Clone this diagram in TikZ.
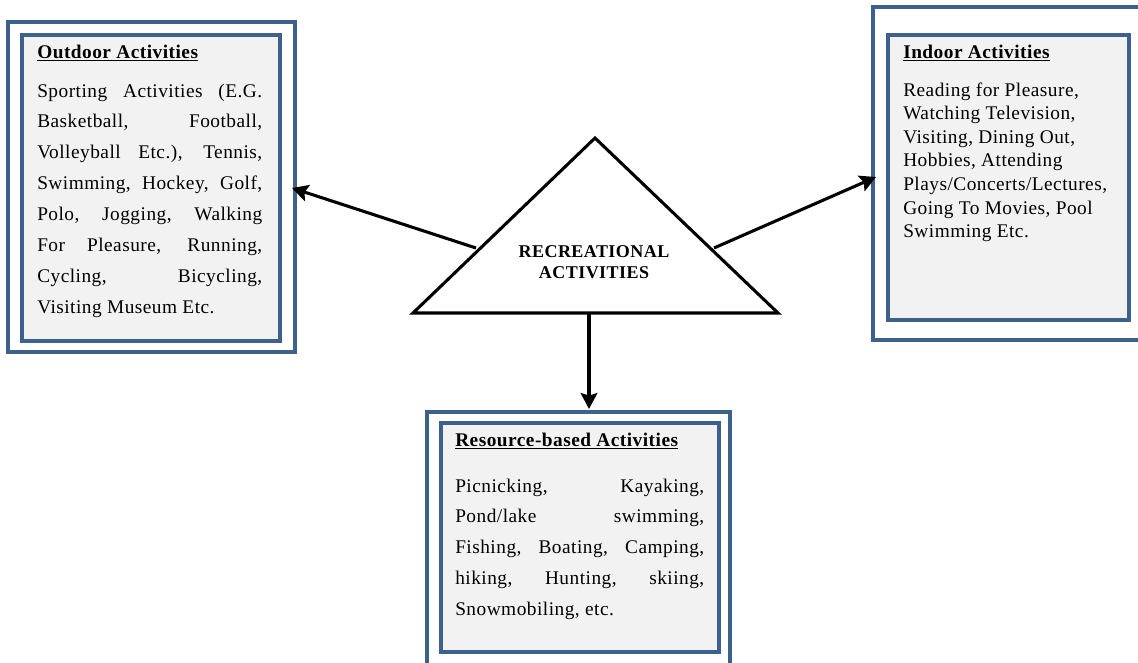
\documentclass[tikz,border=0pt]{standalone}
\usepackage{fontspec}
\setmainfont{Liberation Serif}[LetterSpace=2.5]
\usetikzlibrary{arrows.meta,fit}
\definecolor{boxblue}{RGB}{62,96,140}
\definecolor{boxfill}{RGB}{242,242,242}
\newcommand{\jline}[1]{\makebox[\linewidth][s]{#1}\\}
\begin{document}
\begin{tikzpicture}[x=0.75pt,y=-0.75pt,
  outerbox/.style={draw=boxblue, line width=2.4pt, rectangle, inner sep=0pt},
  innerbox/.style={draw=boxblue, line width=3.2pt, fill=boxfill, rectangle, inner sep=0pt},
  arr/.style={line width=2.3pt, -{Stealth[length=12pt,width=12.5pt,inset=2pt]}},
  tri/.style={line width=2.3pt, line join=miter},
  title/.style={anchor=base west, inner sep=0pt, font=\bfseries\fontsize{14.5}{17}\selectfont},
  body/.style={anchor=base west, inner sep=0pt},
  centre/.style={inner sep=0pt, align=center, font=\bfseries\fontsize{13.5}{16}\selectfont}
]
\useasboundingbox (0,0) rectangle (1138,662);

% boxes
\node[outerbox, fit={(8,22) (295,352)}] (outO) {};
\node[innerbox, fit={(22,35) (280,341)}] (inO) {};
\node[outerbox, fit={(873,7) (1150,340)}] (outI) {};
\node[innerbox, fit={(888,35) (1129,320)}] (inI) {};
\node[outerbox, fit={(427,412) (730,680)}] (outR) {};
\node[innerbox, fit={(441,423) (719,652)}] (inR) {};

% triangle
\coordinate (tA) at (595,138);
\coordinate (tB) at (778,313);
\coordinate (tC) at (413,313);
\draw[tri] (tA) -- (tB) -- (tC) -- cycle;
\node[centre] (tri) at (594,262) {RECREATIONAL\\ACTIVITIES};

% arrows
\coordinate (aLs) at (476,248);
\coordinate (aLe) at (292,188);
\coordinate (aRs) at (714,248);
\coordinate (aRe) at (876,177);
\coordinate (aDs) at (589,313);
\coordinate (aDe) at (589,409);
\draw[arr] (aLs) -- (aLe);
\draw[arr] (aRs) -- (aRe);
\draw[arr] (aDs) -- (aDe);

% outdoor
\node[title] (tO) at (37,58) {\underline{Outdoor Activities}};
\node[body] (bO) at (37,97) {\parbox[t]{168.75pt}{\fontsize{14.5}{23.2}\selectfont
\jline{Sporting Activities (E.G.}
\jline{Basketball, Football,}
\jline{Volleyball Etc.), Tennis,}
\jline{Swimming, Hockey, Golf,}
\jline{Polo, Jogging, Walking}
\jline{For Pleasure, Running,}
\jline{Cycling, Bicycling,}
Visiting Museum Etc.}};

% indoor
\node[title] (tI) at (903,58) {\underline{Indoor Activities}};
\node[body] (bI) at (903,96) {\parbox[t]{200pt}{\raggedright\fontsize{14.5}{17.7}\selectfont
Reading for Pleasure,\\
Watching Television,\\
Visiting, Dining Out,\\
Hobbies, Attending\\
Plays/Concerts/Lectures,\\
Going To Movies, Pool\\
Swimming Etc.}};

% resource
\node[title] (tR) at (455,446) {\underline{Resource-based Activities}};
\node[body] (bR) at (455,492) {\parbox[t]{186.75pt}{\fontsize{14.5}{23.1}\selectfont
\jline{Picnicking, Kayaking,}
\jline{Pond/lake swimming,}
\jline{Fishing, Boating, Camping,}
\jline{hiking, Hunting, skiing,}
Snowmobiling, etc.}};
\end{tikzpicture}
\end{document}
